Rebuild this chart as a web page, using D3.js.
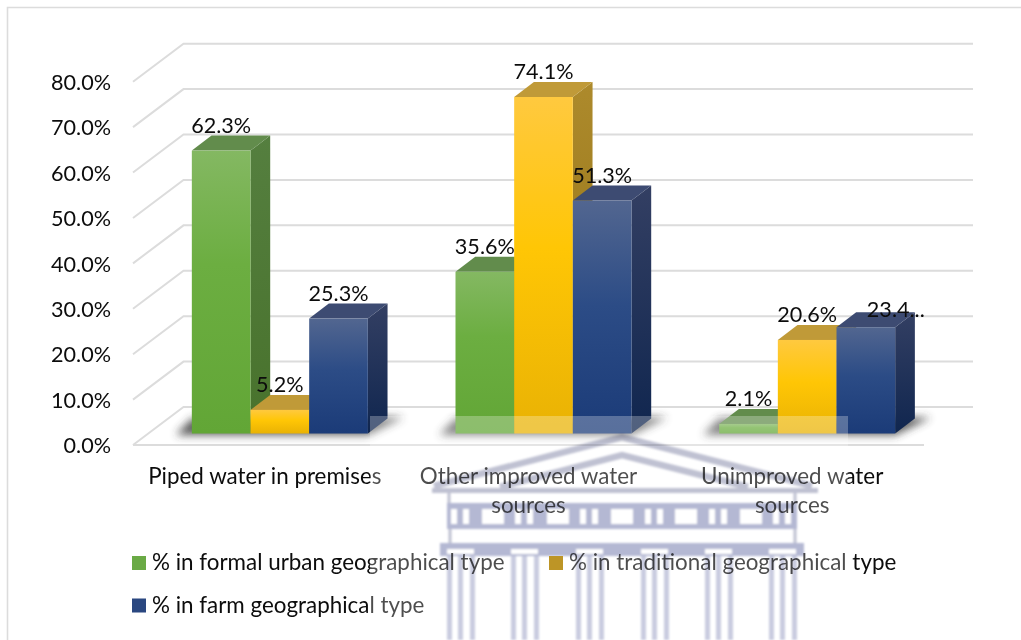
<!DOCTYPE html>
<html><head><meta charset="utf-8">
<script src="https://cdn.jsdelivr.net/npm/d3@7"></script>
<style>
html,body{margin:0;padding:0;background:#fff}
svg{display:block}
text{font-family:Lato,"Open Sans",sans-serif;fill:#0c0c0c}
</style></head><body>
<svg id="chart" width="1021" height="640"></svg>
<script>
const categories = ["Piped water in premises", "Other improved water sources", "Unimproved water sources"];
const seriesNames = ["% in formal urban geographical type", "% in traditional geographical type", "% in farm geographical type"];
const formalUrban = [62.3, 35.6, 2.1];
const traditional = [5.2, 74.1, 20.6];
const farm = [25.3, 51.3, 23.4];
const yTicks = [0, 10, 20, 30, 40, 50, 60, 70, 80];

const svg = d3.select("#chart");
const defs = svg.append("defs");

// Perspective of the 3-D plot box
const floorY = 445, plotH = 363.3, wallDx = 50.5, wallDy = 38;
const barBase = 433.5, barDx = 19.7, barDy = 15;
const left = 133, right = 924;
const numberSize = 21.6, wordSize = 22.4;

const x = d3.scaleBand().domain(categories).range([left, right]);
const yFront = d3.scaleLinear().domain([0, 80]).range([floorY, floorY - plotH]);
const yBar = d3.scaleLinear().domain([0, 80]).range([barBase, barBase - plotH]);
const inner = d3.scaleBand().domain(d3.range(3)).range([0, 176]);
const barOffset = (x.bandwidth() - 176) / 2 + 15;

const palettes = [
  {front:[["0%","#84b862"],["40%","#6cae41"],["100%","#62a636"]], top:"#628c4c", side:["#557f3f","#48722c"], key:"#6aaa45"},
  {front:[["0%","#ffc93f"],["45%","#ffc605"],["100%","#e9b204"]], top:"#c09a38", side:["#ad8a2c","#8f6f12"], key:"#bd9526"},
  {front:[["0%","#526690"],["45%","#2c4c86"],["100%","#1b3b78"]], top:"#3d4b72", side:["#333f63","#10264f"], key:"#2a4780"}
];
palettes.forEach((p, i) => {
  const f = defs.append("linearGradient").attr("id", "front" + i).attr("x1", 0).attr("x2", 0).attr("y1", 0).attr("y2", 1);
  p.front.forEach(s => f.append("stop").attr("offset", s[0]).attr("stop-color", s[1]));
  const g = defs.append("linearGradient").attr("id", "side" + i).attr("x1", 0).attr("x2", 0).attr("y1", 0).attr("y2", 1);
  p.side.forEach((c, k) => g.append("stop").attr("offset", k).attr("stop-color", c));
});
defs.append("filter").attr("id", "soft").attr("x", "-30%").attr("y", "-80%").attr("width", "160%").attr("height", "260%")
  .append("feGaussianBlur").attr("stdDeviation", 4);
defs.append("filter").attr("id", "haze").append("feGaussianBlur").attr("stdDeviation", 1);

// Chart frame: only the top and left edges fall inside the page
svg.append("path").attr("d", "M7.5,640V7.5H1021").attr("fill", "none").attr("stroke", "#dcdcdc").attr("stroke-width", 1.6);

// Back wall gridlines, side wall and floor
const grid = svg.append("g").attr("fill", "none").attr("stroke", "#dcdcdc").attr("stroke-width", 2);
yTicks.forEach(t => {
  const y = yFront(t);
  grid.append("path").attr("d", `M${left},${y}L${left + wallDx},${y - wallDy}H${right + wallDx - 1.5}`);
});
grid.append("path").attr("d", `M${left},${floorY}H${right}`);

// Axis labels
svg.append("g").selectAll("text").data(yTicks).join("text")
  .attr("x", 111).attr("y", d => yFront(d) + 8.2).attr("text-anchor", "end")
  .attr("font-size", numberSize).text(d => d3.format(".1f")(d) + "%");

const series = [formalUrban, traditional, farm];
const barsData = categories.flatMap((c, ci) => series.map((vals, si) => ({c, ci, si, v: vals[ci]})));
const bx = d => x(d.c) + barOffset + inner(d.si);
const bw = inner.bandwidth();

// Soft contact shadow under each cluster
svg.append("g").selectAll("path").data(categories).join("path")
  .attr("filter", "url(#soft)").attr("fill", "#333").attr("opacity", .8)
  .attr("d", c => {
    const a = x(c) + barOffset, b = a + 176;
    return `M${a - 16},${barBase + 1.5}H${b}L${b + barDx + 16},${barBase - barDy - 1}H${b}V${barBase - barDy}H${a}Z`;
  });

// Bars are drawn left to right so each one overlaps its neighbour's side face
const bars = svg.append("g").selectAll("g").data(barsData).join("g");
bars.append("path").attr("fill", d => `url(#side${d.si})`)
  .attr("d", d => { const r = bx(d) + bw, t = yBar(d.v);
    return `M${r},${t}l${barDx},${-barDy}V${barBase - barDy}L${r},${barBase}Z`; });
bars.append("path").attr("fill", d => palettes[d.si].top)
  .attr("d", d => { const l = bx(d), t = yBar(d.v);
    return `M${l},${t}l${barDx},${-barDy}h${bw}l${-barDx},${barDy}Z`; });
bars.append("rect").attr("fill", d => `url(#front${d.si})`)
  .attr("x", bx).attr("width", bw).attr("y", d => yBar(d.v)).attr("height", d => barBase - yBar(d.v));

// Value labels; the last one is clipped and pushed aside by the renderer
const isClipped = d => d.ci === 2 && d.si === 2;
svg.append("g").selectAll("text").data(barsData).join("text")
  .attr("text-anchor", "middle").attr("font-size", numberSize)
  .attr("x", d => bx(d) + bw / 2 + (isClipped(d) ? 30 : 0))
  .attr("y", d => yBar(d.v) - (isClipped(d) ? 10 : 18))
  .text(d => isClipped(d) ? d.v + "..." : d3.format(".1f")(d.v) + "%");

// Category labels, wrapped on two lines where the band is too narrow
const catLines = [["Piped water in premises"], ["Other improved water", "sources"], ["Unimproved water", "sources"]];
const catG = svg.append("g").selectAll("text").data(categories).join("text")
  .attr("text-anchor", "middle").attr("font-size", wordSize);
catG.selectAll("tspan").data((c, i) => catLines[i]).join("tspan")
  .attr("x", function() { const c = d3.select(this.parentNode).datum(); return x(c) + x.bandwidth() / 2; })
  .attr("y", (l, i) => 483.5 + i * 29.5).text(l => l);

// Legend labels
const legendPos = [[132, 570], [549, 570], [132, 612.5]];
const legend = svg.append("g").selectAll("g").data(seriesNames).join("g")
  .attr("transform", (d, i) => `translate(${legendPos[i][0]},${legendPos[i][1]})`);
legend.append("text").attr("x", 20).attr("font-size", wordSize).text(d => d);

// Campus emblem behind the page: a pale wash with a colonnaded facade over it
const wm = svg.append("g");
wm.append("rect").attr("x", 370).attr("y", 416).attr("width", 478).attr("height", 224).attr("fill", "#fff").attr("opacity", .27);
const emblem = wm.append("g").attr("filter", "url(#haze)").style("mix-blend-mode", "multiply");
const ink = "#b4b8d3", paleInk = "#c9cce0", roofInk = "#bfc1d2";
emblem.append("path").attr("fill", "none").attr("stroke", roofInk).attr("stroke-width", 6.5)
  .attr("d", "M434,486L622,437L812,486M500,487L622,455L748,487");
emblem.append("rect").attr("x", 432).attr("y", 488).attr("width", 386).attr("height", 5).attr("fill", roofInk);
emblem.append("rect").attr("x", 447).attr("y", 503).attr("width", 350).attr("height", 26).attr("fill", ink);
emblem.append("path").attr("fill", "none").attr("stroke", roofInk).attr("stroke-width", 3)
  .attr("d", "M449,493V503M795,493V503M450,529V543M795,529V543");
emblem.append("rect").attr("x", 440).attr("y", 543).attr("width", 364).attr("height", 13).attr("fill", ink);
const metopes = [482, 547, 611, 675, 740];
const columnsX = [460, 524, 589, 654, 718, 782];
emblem.selectAll(".m").data(metopes).join("rect").attr("x", d => d).attr("y", 509).attr("width", 22).attr("height", 15).attr("fill", "#fff");
columnsX.forEach(cx => {
  emblem.append("rect").attr("x", cx - 9).attr("y", 509).attr("width", 6).attr("height", 15).attr("fill", "#fff");
  emblem.append("rect").attr("x", cx + 3).attr("y", 509).attr("width", 6).attr("height", 15).attr("fill", "#fff");
  emblem.append("rect").attr("x", cx - 13).attr("y", 549).attr("width", 27).attr("height", 5).attr("fill", "#fff");
  [-13, -2, 10].forEach(o => emblem.append("rect").attr("x", cx + o).attr("y", 556).attr("width", 5).attr("height", 84).attr("fill", paleInk));
});

// Legend keys sit above the wash and keep their full colour
svg.append("g").selectAll("rect").data(seriesNames).join("rect")
  .attr("x", (d, i) => legendPos[i][0]).attr("y", (d, i) => legendPos[i][1] - 14)
  .attr("width", 14).attr("height", 14).attr("fill", (d, i) => palettes[i].key);
</script></body></html>
